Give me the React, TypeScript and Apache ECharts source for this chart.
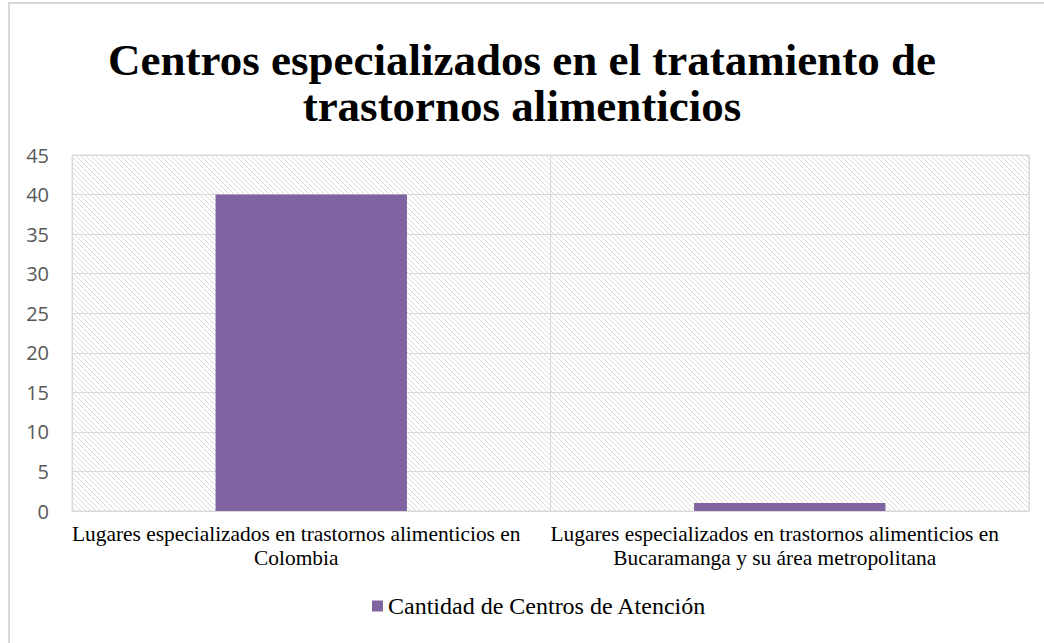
import React, { useEffect, useRef } from "react";
import * as echarts from "echarts";

const categories = [
  "Lugares especializados en trastornos alimenticios en\nColombia",
  "Lugares especializados en trastornos alimenticios en\nBucaramanga y su área metropolitana",
];
const seriesName = "Cantidad de Centros de Atención";
const values = [40, 1];
const titleText = "Centros especializados en el tratamiento de\ntrastornos alimenticios";

const hatchSvg =
  "<svg xmlns='http://www.w3.org/2000/svg' width='5' height='5'>" +
  "<path d='M-1,-1 L6,6 M-1,4 L1,6 M4,-1 L6,1' stroke='#dadada' stroke-width='1'/></svg>";
const hatchUrl = "data:image/svg+xml;charset=utf-8," + encodeURIComponent(hatchSvg);

export default function App() {
  const ref = useRef<HTMLDivElement>(null);
  useEffect(() => {
    if (!ref.current) return;
    const chart = echarts.init(ref.current, undefined, { renderer: "svg" });
    chart.setOption({
      animation: false,
      backgroundColor: "#ffffff",
      title: {
        text: titleText,
        left: "center",
        top: 32,
        textStyle: {
          fontFamily: "Liberation Serif",
          fontWeight: "bold",
          fontSize: 45,
          color: "#000000",
          lineHeight: 46,
        },
      },
      legend: {
        data: [seriesName],
        bottom: 20,
        left: 367,
        itemWidth: 11,
        itemHeight: 11,
        itemGap: 3,
        icon: "rect",
        textStyle: { fontFamily: "Liberation Serif", fontSize: 24, color: "#000000" },
      },
      grid: {
        left: 72,
        right: 15,
        top: 155,
        bottom: 132,
        show: true,
        backgroundColor: { image: hatchUrl, repeat: "repeat" } as any,
        borderColor: "#d9d9d9",
        borderWidth: 1,
      },
      xAxis: {
        type: "category",
        data: categories,
        axisLine: { lineStyle: { color: "#d9d9d9", width: 1 } },
        axisTick: { show: false },
        splitLine: { show: true, lineStyle: { color: "#d9d9d9", width: 1 } },
        axisLabel: {
          fontFamily: "Liberation Serif",
          fontSize: 21.4,
          color: "#000000",
          lineHeight: 24,
          margin: 11,
          interval: 0,
          padding: [0, 30, 0, 0],
        },
      },
      yAxis: {
        type: "value",
        min: 0,
        max: 45,
        interval: 5,
        axisLine: { show: false },
        axisTick: { show: false },
        splitLine: { lineStyle: { color: "#d9d9d9", width: 1 } },
        axisLabel: {
          fontFamily: "Open Sans",
          fontSize: 20,
          color: "#595959",
          margin: 23,
        },
      },
      series: [
        {
          name: seriesName,
          type: "bar",
          data: values,
          barWidth: "40%",
          itemStyle: { color: "#8064a2" },
        },
      ],
    });
    return () => chart.dispose();
  }, []);
  return (
    <div style={{ position: "fixed", left: 0, top: 0, width: 1044, height: 643, background: "#fff" }}>
      <div ref={ref} style={{ position: "absolute", left: 0, top: 0, width: 1044, height: 643 }} />
      <div
        style={{
          position: "absolute",
          left: 8,
          top: 2,
          width: 1100,
          height: 700,
          border: "2px solid #d9d9d9",
          boxSizing: "border-box",
          pointerEvents: "none",
        }}
      />
    </div>
  );
}
